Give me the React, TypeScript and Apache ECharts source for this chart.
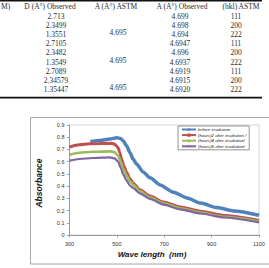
import React, { useEffect, useRef } from "react";
import * as echarts from "echarts";

// ---- table data ----
const tableHeaders = ["D (A°) Observed", "A (A°) ASTM", "A (A°) Observed", "(hkl) ASTM"];
const firstHeaderTail = "M)";
const dObserved = ["2.713", "2.3499", "1.3551", "2.7105", "2.3482", "1.3549", "2.7089", "2.34579", "1.35447"];
const aAstm = ["4.695", "4.695", "4.695"];
const aObserved = ["4.699", "4.698", "4.694", "4.6947", "4.696", "4.6937", "4.6919", "4.6915", "4.6920"];
const hklAstm = ["111", "200", "222", "111", "200", "222", "111", "200", "222"];

// ---- absorbance spectra ----
const seriesNames = [
  "before irradiation",
  "(hours)2 after irradiation /",
  "(hours)4 after irradiation/",
  "(hours)6 after irradiation/",
];
const beforeWl = [388, 430, 470, 500, 515, 527, 541, 555, 569, 583, 612, 640, 682, 739, 796, 852, 923, 994, 1100];
const beforeAbs = [0.765, 0.774, 0.786, 0.795, 0.79, 0.77, 0.73, 0.676, 0.62, 0.58, 0.514, 0.468, 0.41, 0.35, 0.303, 0.262, 0.224, 0.197, 0.162];
const h2Wl = [300, 342, 385, 427, 477, 491, 505, 512, 520, 529, 541, 555, 569, 597, 640, 697, 767, 852, 952, 1100];
const h2Abs = [0.72, 0.738, 0.746, 0.749, 0.75, 0.743, 0.716, 0.676, 0.62, 0.567, 0.514, 0.46, 0.424, 0.37, 0.32, 0.27, 0.23, 0.195, 0.16, 0.119];
const h4Wl = [300, 342, 399, 477, 491, 505, 517, 527, 541, 555, 569, 597, 640, 697, 767, 852, 952, 1100];
const h4Abs = [0.657, 0.673, 0.681, 0.684, 0.676, 0.649, 0.595, 0.54, 0.486, 0.44, 0.41, 0.36, 0.308, 0.26, 0.219, 0.184, 0.149, 0.111];
const h6Wl = [300, 342, 399, 470, 491, 505, 517, 527, 541, 555, 569, 597, 640, 697, 767, 852, 952, 1100];
const h6Abs = [0.608, 0.622, 0.63, 0.635, 0.627, 0.6, 0.546, 0.495, 0.446, 0.405, 0.384, 0.34, 0.295, 0.249, 0.21, 0.176, 0.143, 0.103];
const xTicks = [300, 500, 700, 900, 1100];

const colors = ["#4F81BD", "#C0504D", "#9BBB59", "#8064A2"];
const symbols = [
  "diamond",
  "rect",
  "triangle",
  "path://M1,0L5,4L9,0L10,1L6,5L10,9L9,10L5,6L1,10L0,9L4,5L0,1Z",
];
const widths = [3.5, 3, 2.6, 2.2];

const pair = (xs: number[], ys: number[]) => xs.map((x, i) => [x, ys[i]]);

const SERIF = "'Liberation Serif', 'Times New Roman', serif";
const SANS = "'Liberation Sans', Arial, sans-serif";

function buildTable(): any[] {
  const els: any[] = [];
  const txt = (s: string, x: number, y: number, align = "center") => ({
    type: "text",
    x,
    y,
    style: {
      text: s,
      font: `7.5px ${SERIF}`,
      fill: "#2a2a2a",
      align,
      verticalAlign: "middle",
    },
  });
  // rules
  els.push({ type: "rect", shape: { x: 0, y: 0, width: 262, height: 1.6 }, style: { fill: "#111" } });
  els.push({ type: "rect", shape: { x: 0, y: 96.8, width: 262, height: 1.6 }, style: { fill: "#111" } });
  // header row
  els.push(txt(firstHeaderTail, 1, 6.5, "left"));
  const headerX = [50, 116, 182, 241];
  tableHeaders.forEach((h, i) => els.push(txt(h, headerX[i], 6.5)));
  const rowY = (i: number) => 16.5 + 9.1 * i;
  dObserved.forEach((v, i) => els.push(txt(v, 56, rowY(i))));
  aObserved.forEach((v, i) => els.push(txt(v, 180, rowY(i))));
  hklAstm.forEach((v, i) => els.push(txt(v, 236, rowY(i))));
  aAstm.forEach((v, g) => els.push(txt(v, 118, rowY(g * 3 + 2) - 2)));
  return els;
}

export default function App() {
  const ref = useRef<HTMLDivElement>(null);
  useEffect(() => {
    if (!ref.current) return;
    const chart = echarts.init(ref.current, undefined, { renderer: "svg" });
    const data = [pair(beforeWl, beforeAbs), pair(h2Wl, h2Abs), pair(h4Wl, h4Abs), pair(h6Wl, h6Abs)];
    chart.setOption({
      animation: false,
      backgroundColor: "#ffffff",
      grid: {
        left: 69.5,
        right: 10,
        top: 125,
        bottom: 33,
        show: true,
        borderColor: "#c8c8c8",
        borderWidth: 0.8,
        containLabel: false,
      },
      xAxis: {
        type: "value",
        min: 300,
        max: 1100,
        axisLine: { lineStyle: { color: "#8a8a8a", width: 0.8 } },
        axisTick: { customValues: xTicks, length: 2.5, lineStyle: { color: "#8a8a8a", width: 0.8 } },
        axisLabel: {
          customValues: xTicks,
          margin: 6,
          fontSize: 5.5,
          fontFamily: SANS,
          color: "#333",
          formatter: (v: number) => String(v),
        },
        splitLine: { show: false },
      },
      yAxis: {
        type: "value",
        min: 0,
        max: 0.9,
        interval: 0.1,
        axisLine: { show: true, lineStyle: { color: "#8a8a8a", width: 0.8 } },
        axisTick: { show: true, length: 2.5, lineStyle: { color: "#8a8a8a", width: 0.8 } },
        axisLabel: {
          margin: 5,
          fontSize: 5.5,
          fontFamily: SANS,
          color: "#333",
          formatter: (v: number) => String(Math.round(v * 10) / 10),
        },
        splitLine: { show: false },
      },
      legend: {
        orient: "vertical",
        left: 178,
        top: 126,
        backgroundColor: "#fff",
        borderColor: "#666",
        borderWidth: 0.7,
        padding: [1.5, 3, 1.5, 3],
        itemGap: 1.6,
        itemWidth: 14,
        itemHeight: 4,
        textStyle: {
          fontSize: 4.3,
          fontStyle: "italic",
          fontFamily: SANS,
          color: "#222",
          padding: [0, 0, 0, -3],
        },
        data: seriesNames,
      },
      series: data.map((d, i) => ({
        type: "line",
        name: seriesNames[i],
        data: d,
        symbol: symbols[i],
        symbolSize: 4,
        showSymbol: false,
        smooth: 0.25,
        smoothMonotone: "x",
        color: colors[i],
        lineStyle: { width: widths[i], color: colors[i] },
        itemStyle: { color: colors[i] },
        z: 2 + i,
      })),
      graphic: [
        ...buildTable(),
        {
          type: "rect",
          shape: { x: 30.5, y: 117.5, width: 250, height: 146.5 },
          style: { fill: "none", stroke: "#a8a8a8", lineWidth: 1 },
          z: -1,
        },
        {
          type: "text",
          x: 39,
          y: 183,
          rotation: Math.PI / 2,
          style: {
            text: "Absorbance",
            font: `italic bold 8.5px ${SANS}`,
            fill: "#111",
            align: "center",
            verticalAlign: "middle",
          },
        },
        {
          type: "text",
          x: 152,
          y: 254,
          style: {
            text: "Wave length  (nm)",
            font: `italic bold 8px ${SANS}`,
            fill: "#111",
            align: "center",
            verticalAlign: "middle",
          },
        },
      ],
    });
    return () => chart.dispose();
  }, []);
  return (
    <div
      ref={ref}
      style={{ position: "fixed", left: 0, top: 0, width: 269, height: 268, background: "#fff" }}
    />
  );
}
